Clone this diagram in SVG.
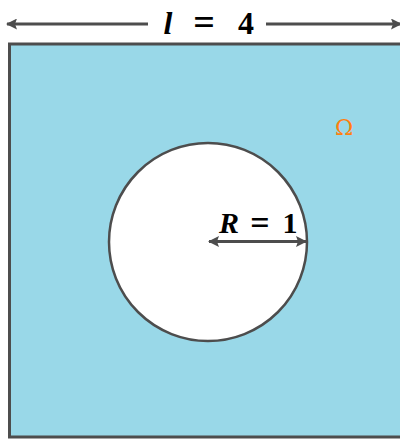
<svg xmlns="http://www.w3.org/2000/svg" width="400" height="439" viewBox="0 0 400 439">
<style>
.ln{stroke:#4d4d4d;stroke-width:3;fill:none}
.math{font-family:'Liberation Serif','DejaVu Serif',serif;font-weight:bold;fill:#000}
</style>
<defs>
<marker id="ah" markerWidth="11" markerHeight="11" refX="10" refY="5.5" orient="auto-start-reverse" markerUnits="userSpaceOnUse">
<path d="M0,0 L11,5.5 L0,11 L2,5.5 Z" fill="#4d4d4d"/>
</marker>
</defs>
<rect width="400" height="439" fill="#fff"/>
<g id="domain">
<rect x="9.5" y="44" width="400" height="393" fill="#99d8e8" stroke="#4d4d4d" stroke-width="3"/>
<text x="344" y="135" style="font-family:'DejaVu Serif',serif" font-size="22" fill="#ff7f0e" text-anchor="middle">Ω</text>
</g>
<g id="hole">
<circle cx="208" cy="242" r="99" fill="#fff" stroke="#4d4d4d" stroke-width="2.5"/>
</g>
<g id="connectors">
<line class="ln" x1="148" y1="24" x2="7" y2="24" marker-end="url(#ah)"/>
<line class="ln" x1="266" y1="24" x2="401" y2="24" marker-end="url(#ah)"/>
<line class="ln" x1="209" y1="241.5" x2="306" y2="241.5" marker-start="url(#ah)" marker-end="url(#ah)"/>
</g>
<g id="labels">
<text class="math" x="168" y="34" font-size="32" font-style="italic" text-anchor="middle">l</text>
<text class="math" x="204" y="35" font-size="38" text-anchor="middle">=</text>
<text class="math" x="246" y="34" font-size="32" text-anchor="middle">4</text>
<text class="math" x="229" y="233" font-size="30" font-style="italic" text-anchor="middle">R</text>
<text class="math" x="260" y="234" font-size="34" text-anchor="middle">=</text>
<text class="math" x="290" y="233" font-size="30" text-anchor="middle">1</text>
</g>
</svg>
